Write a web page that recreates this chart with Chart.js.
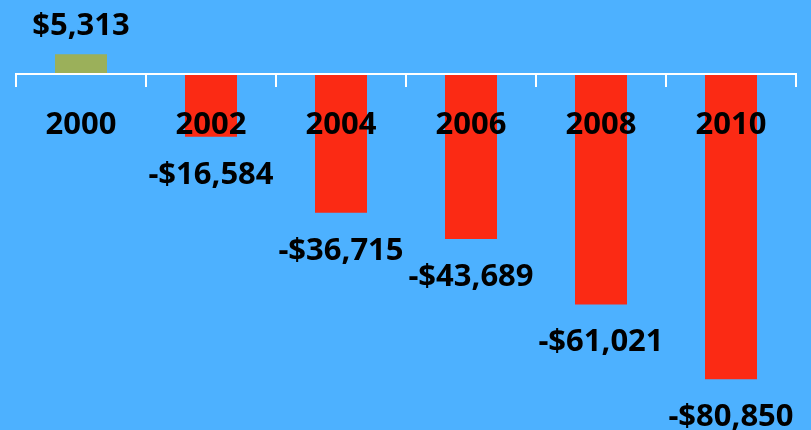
<!DOCTYPE html>
<html>
<head>
<meta charset="utf-8">
<script src="https://cdn.jsdelivr.net/npm/chart.js@4"></script>
<style>
  html, body { margin: 0; padding: 0; background: #4db1ff; }
  canvas { display: block; }
</style>
</head>
<body>
<canvas id="gapChart" width="811" height="430"></canvas>
<script>
var years = ['2000', '2002', '2004', '2006', '2008', '2010'];
var balance = [5313, -16584, -36715, -43689, -61021, -80850];

function money(v) {
    return (v < 0 ? '-' : '') + '$' + Math.abs(v).toLocaleString('en-US');
}

var labelFont = 'bold 31px "Noto Sans", "Open Sans", sans-serif';

// value labels above / below each bar
var valueLabels = {
    id: 'valueLabels',
    afterDatasetsDraw: function (chart) {
        var ctx = chart.ctx;
        var meta = chart.getDatasetMeta(0);
        ctx.save();
        ctx.font = labelFont;
        ctx.fillStyle = '#000';
        ctx.textAlign = 'center';
        ctx.textBaseline = 'middle';
        meta.data.forEach(function (bar, i) {
            var v = balance[i];
            var y = v >= 0 ? bar.y - 28 : bar.y + 38;
            ctx.fillText(money(v), bar.x, y);
        });
        ctx.restore();
    }
};

new Chart(document.getElementById('gapChart').getContext('2d'), {
    type: 'bar',
    data: {
        labels: years,
        datasets: [{
            data: balance,
            backgroundColor: function (c) {
                return c.raw >= 0 ? '#9bb05a' : '#fb2a14';
            },
            borderWidth: 0,
            categoryPercentage: 0.4,
            barPercentage: 1
        }]
    },
    options: {
        responsive: false,
        animation: false,
        layout: { padding: { left: 16, right: 15, top: 0, bottom: 0 } },
        plugins: {
            legend: { display: false },
            tooltip: { enabled: false }
        },
        scales: {
            y: {
                display: false,
                min: -94300,
                max: 19700
            },
            x: {
                position: { y: 0 },
                grid: {
                    z: 1,
                    offset: true,
                    drawOnChartArea: false,
                    drawTicks: true,
                    tickLength: 12,
                    color: '#ffffff',
                    lineWidth: 2
                },
                border: { z: 1, color: '#ffffff', width: 2 },
                ticks: {
                    z: 1,
                    color: '#000',
                    padding: 20,
                    font: { family: '"Noto Sans", "Open Sans", sans-serif', size: 31, weight: 'bold' }
                }
            }
        }
    },
    plugins: [valueLabels]
});
</script>
</body>
</html>
